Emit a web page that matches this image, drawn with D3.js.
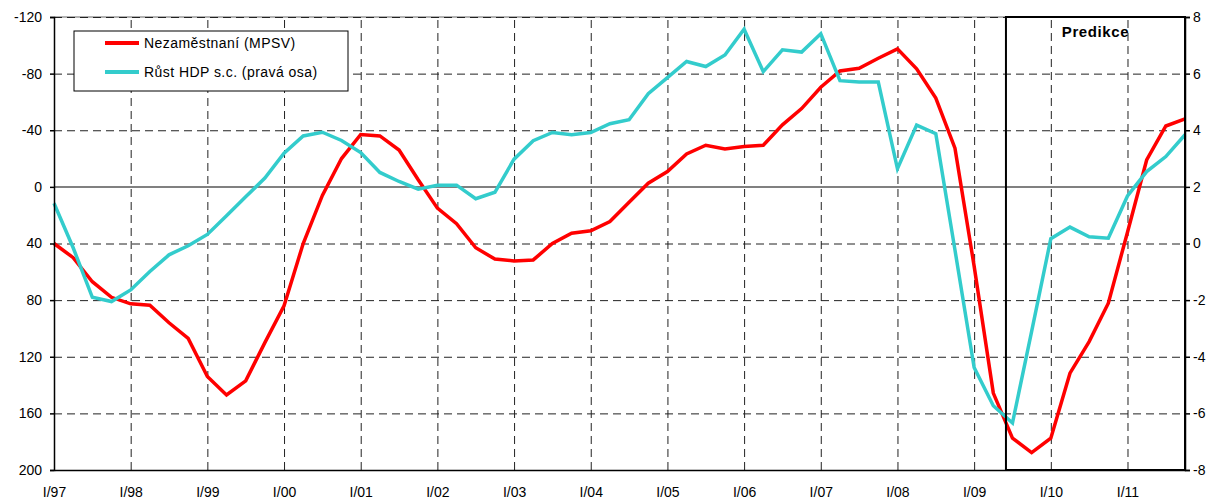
<!DOCTYPE html>
<html lang="cs">
<head>
<meta charset="UTF-8" />
<script src="https://cdn.jsdelivr.net/npm/d3@7"></script>
<title>Nezaměstnanost a HDP</title>
<style>
  body { margin: 0; background: #fff; }
  text { font-family: Arial, "Liberation Sans", sans-serif; fill: #000; }
  .grid line { stroke: #222; stroke-width: 1; stroke-dasharray: 8 5; }
  .grid path { display: none; }
  .axis path, .axis line { stroke: #000; stroke-width: 1.5; }
  .axis text { font-size: 14px; }
  .line { fill: none; stroke-width: 3.5; stroke-linejoin: miter; }
</style>
</head>
<body>
<script>
// ctvrtleti I/97 .. IV/11
var quarters = d3.range(60);
var yearLabels = ["I/97","I/98","I/99","I/00","I/01","I/02","I/03","I/04","I/05","I/06","I/07","I/08","I/09","I/10","I/11"];
var leftTicks = [-120, -80, -40, 0, 40, 80, 120, 160, 200];
var rightTicks = [8, 6, 4, 2, 0, -2, -4, -6, -8];

// Nezamestnani (MPSV) - leva osa (obracena)
var nezamestnani = [
  40, 50, 67, 78, 82.6, 83.6, 96, 107, 134, 147,
  137, 110, 84, 40, 6, -20, -37, -36, -26, -5,
  15, 26, 43, 51, 52.3, 51.6, 40, 32.7, 31, 24.5,
  10.8, -2.6, -10.8, -23.3, -29.4, -26.8, -28.5, -29.4, -43.8, -55.3,
  -70.4, -81.9, -83.8, -90.9, -97.5, -83.4, -62.7, -27.3, 56, 145.7,
  177.5, 187.7, 177.5, 131.6, 109.3, 82.2, 32, -19, -43, -48
];

// Rust HDP s.c. - prava osa
var hdp = [
  1.42, -0.15, -1.9, -2.05, -1.64, -0.99, -0.4, -0.08, 0.32, 0.98,
  1.65, 2.31, 3.19, 3.8, 3.93, 3.64, 3.21, 2.51, 2.19, 1.92,
  2.06, 2.06, 1.58, 1.81, 2.98, 3.63, 3.92, 3.84, 3.92, 4.23,
  4.37, 5.29, 5.86, 6.43, 6.25, 6.66, 7.57, 6.07, 6.84, 6.76,
  7.41, 5.75, 5.7, 5.7, 2.64, 4.18, 3.88, -0.23, -4.38, -5.73,
  -6.34, -3.1, 0.17, 0.58, 0.24, 0.19, 1.68, 2.54, 3.07, 3.84
];

var predikceOd = 49.66; // zacatek predikce (index ctvrtleti)

var width = 1215, height = 502;
var margin = {top: 17, right: 30, bottom: 32, left: 54};
var x0 = margin.left, x1 = width - margin.right;
var y0 = margin.top, y1 = height - margin.bottom;

var x = d3.scaleLinear().domain([0, 59]).range([x0, x1]);
var yL = d3.scaleLinear().domain([-120, 200]).range([y0, y1]);
var yR = d3.scaleLinear().domain([8, -8]).range([y0, y1]);

var svg = d3.select("body").append("svg")
  .attr("width", width)
  .attr("height", height);

// top line (grey under dashes)
svg.append("line")
  .attr("x1", x0).attr("x2", x1)
  .attr("y1", yL(-120)).attr("y2", yL(-120))
  .attr("stroke", "#999").attr("stroke-width", 1.5);

// horizontal grid
svg.append("g")
  .attr("class", "grid")
  .attr("transform", "translate(" + x0 + ",0)")
  .call(d3.axisLeft(yL).tickValues(leftTicks.filter(function(v){ return v !== 0 && v !== 200; }))
    .tickSize(-(x1 - x0)).tickFormat(""));

// vertical grid
var yearIdx = yearLabels.map(function(d, i){ return i * 4; });
svg.append("g")
  .attr("class", "grid")
  .attr("transform", "translate(0," + y1 + ")")
  .call(d3.axisBottom(x).tickValues(yearIdx.filter(function(v){ return v > 0; }))
    .tickSize(-(y1 - y0)).tickFormat(""));

// zero line
svg.append("line")
  .attr("x1", x0).attr("x2", x1)
  .attr("y1", yL(0)).attr("y2", yL(0))
  .attr("stroke", "#808080").attr("stroke-width", 2);

// series
var lineL = d3.line().x(function(d, i){ return x(quarters[i]); }).y(function(d){ return yL(d); });
var lineR = d3.line().x(function(d, i){ return x(quarters[i]); }).y(function(d){ return yR(d); });

svg.append("path").datum(nezamestnani)
  .attr("class", "line").attr("stroke", "#ff0000").attr("d", lineL);
svg.append("path").datum(hdp)
  .attr("class", "line").attr("stroke", "#33cccc").attr("d", lineR);

// predikce box
svg.append("rect")
  .attr("x", x(predikceOd)).attr("y", y0)
  .attr("width", x1 - x(predikceOd)).attr("height", y1 - y0)
  .attr("fill", "none").attr("stroke", "#000").attr("stroke-width", 2);
svg.append("text")
  .attr("x", (x(predikceOd) + x1) / 2).attr("y", 37)
  .attr("text-anchor", "middle")
  .style("font-size", "15px").style("font-weight", "bold").style("letter-spacing", "0.6px")
  .text("Predikce");

// axes
svg.append("g")
  .attr("class", "axis")
  .attr("transform", "translate(" + x0 + ",0)")
  .call(d3.axisLeft(yL).tickValues(leftTicks).tickSize(4).tickPadding(8).tickFormat(d3.format("d")))
  .call(function(g){ g.selectAll("text").text(function(d){ return String(d); }); });

svg.append("g")
  .attr("class", "axis")
  .attr("transform", "translate(" + x1 + ",0)")
  .call(d3.axisRight(yR).tickValues(rightTicks).tickSize(5).tickPadding(3))
  .call(function(g){ g.selectAll("text").text(function(d){ return String(d); }); });

svg.append("g")
  .attr("class", "axis")
  .attr("transform", "translate(0," + y1 + ")")
  .call(d3.axisBottom(x).tickValues(yearIdx).tickSize(0).tickPadding(17)
    .tickFormat(function(d, i){ return yearLabels[i]; }));

// legend
var legend = svg.append("g").attr("transform", "translate(74,31)");
legend.append("rect")
  .attr("width", 274).attr("height", 60)
  .attr("fill", "#fff").attr("stroke", "#000").attr("stroke-width", 1);
var legendItems = [
  {name: "Nezaměstnaní (MPSV)", color: "#ff0000"},
  {name: "Růst HDP s.c. (pravá osa)", color: "#33cccc"}
];
legendItems.forEach(function(d, i){
  var yy = 12 + i * 29;
  legend.append("line")
    .attr("x1", 31).attr("x2", 65).attr("y1", yy).attr("y2", yy)
    .attr("stroke", d.color).attr("stroke-width", 4);
  legend.append("text")
    .attr("x", 70).attr("y", yy).attr("dy", "0.35em")
    .style("font-size", "14px").style("letter-spacing", "0.45px")
    .text(d.name);
});
</script>
</body>
</html>
